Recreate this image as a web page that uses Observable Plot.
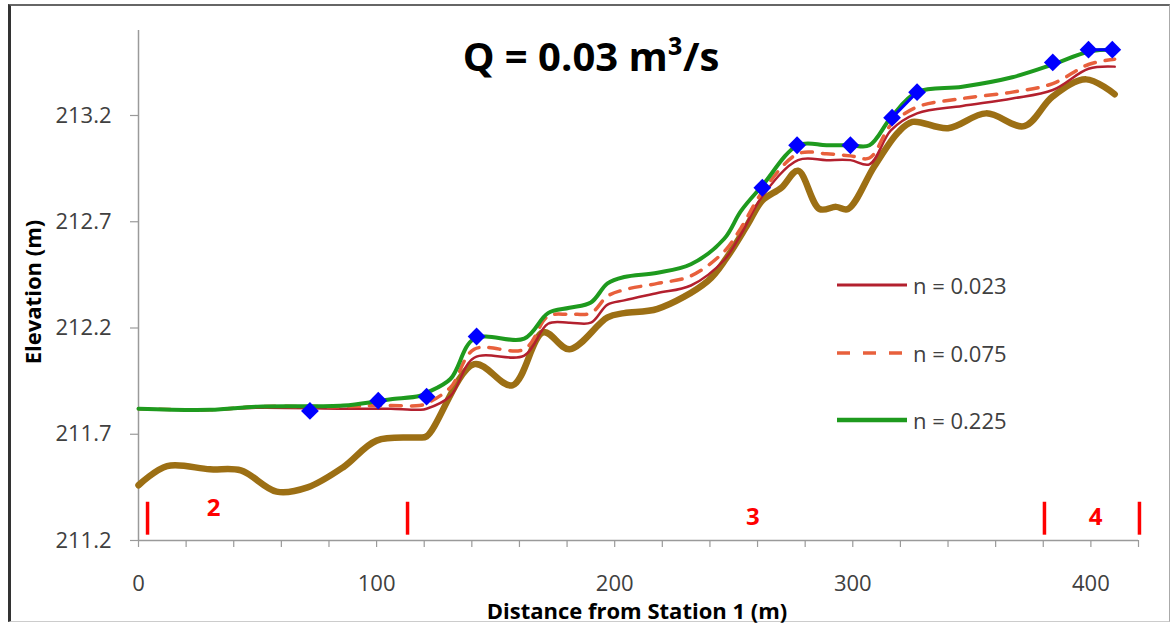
<!DOCTYPE html>
<html>
<head>
<meta charset="utf-8">
<script src="https://cdn.jsdelivr.net/npm/d3@7"></script>
<script src="https://cdn.jsdelivr.net/npm/@observablehq/plot@0.6"></script>
<style>
html, body { margin: 0; padding: 0; background: #fff; }
#wrap { position: relative; width: 1176px; height: 628px; overflow: hidden; font-family: "Open Sans", sans-serif; background: #fff; }
#frame { position: absolute; left: 8px; top: 4px; width: 1162px; height: 618px; box-sizing: border-box;
  border-left: 3px solid #333; border-top: 2px solid #666; border-right: 1px solid #aaa; border-bottom: 1px solid #ccc; }
#chart { position: absolute; left: 0; top: 0; }
.title { position: absolute; left: 591px; top: 36px; transform: translateX(-50%); font-size: 40px; font-weight: 700; line-height: 1; color: #000; white-space: nowrap; }
.xlabel { position: absolute; left: 637px; top: 599px; transform: translateX(-50%); font-size: 22px; font-weight: 700; line-height: 1; color: #000; white-space: nowrap; }
.ylabel { position: absolute; left: 32px; top: 292px; transform: translate(-50%, -50%) rotate(-90deg); font-size: 22px; font-weight: 700; line-height: 1; color: #000; white-space: nowrap; }
.leg { position: absolute; left: 837px; height: 24px; display: flex; align-items: center; font-size: 22px; color: #404040; line-height: 1; white-space: nowrap; }
.leg svg { margin-right: 6px; }
</style>
</head>
<body>
<div id="wrap">
  <div id="frame"></div>
  <div id="chart"></div>
</div>
<script>
// ---- data ----
const bedX    = [0, 12, 30, 43, 58, 71, 86, 100, 117, 121, 141, 157, 170, 181, 197, 204, 218, 239, 247, 256, 262, 270, 277, 286, 293, 298, 309, 319, 325, 340, 356, 372, 384, 398, 410];
const bedElev = [211.46, 211.55, 211.535, 211.53, 211.43, 211.45, 211.545, 211.67, 211.685, 211.69, 212.03, 211.93, 212.18, 212.10, 212.25, 212.27, 212.29, 212.42, 212.53, 212.69, 212.80, 212.86, 212.94, 212.76, 212.77, 212.76, 212.96, 213.12, 213.17, 213.14, 213.21, 213.15, 213.29, 213.37, 213.30];

const wsX   = [0, 30, 50, 86, 100, 106, 118, 121, 131, 141, 162, 172, 181, 190, 197, 204, 218, 232, 246, 253, 262, 277, 289, 299, 307, 316, 327, 346, 367, 384, 399, 410];
const ws023 = [211.82, 211.815, 211.825, 211.82, 211.82, 211.82, 211.815, 211.82, 211.88, 212.06, 212.07, 212.22, 212.225, 212.225, 212.31, 212.33, 212.365, 212.40, 212.52, 212.64, 212.82, 212.99, 212.99, 212.99, 212.97, 213.13, 213.21, 213.245, 213.28, 213.32, 213.42, 213.43];
const ws075 = [211.82, 211.815, 211.83, 211.83, 211.835, 211.835, 211.835, 211.845, 211.92, 212.10, 212.10, 212.255, 212.265, 212.27, 212.35, 212.38, 212.41, 212.445, 212.56, 212.67, 212.84, 213.02, 213.02, 213.01, 213.00, 213.155, 213.24, 213.28, 213.31, 213.35, 213.44, 213.465];
const ws225 = [211.82, 211.815, 211.83, 211.835, 211.855, 211.865, 211.88, 211.895, 211.96, 212.15, 212.15, 212.27, 212.295, 212.32, 212.41, 212.44, 212.46, 212.50, 212.62, 212.75, 212.87, 213.06, 213.06, 213.06, 213.06, 213.19, 213.31, 213.335, 213.38, 213.44, 213.50, 213.51];

const obsX    = [72, 100.7, 121, 142, 262, 276.6, 299, 316.5, 327, 384, 399, 409];
const obsElev = [211.81, 211.858, 211.877, 212.16, 212.86, 213.06, 213.06, 213.19, 213.31, 213.45, 213.51, 213.51];
const obsSeg  = [1, 2, 3, 4, 5, 6, 7, 8, 8, 9, 10, 10];

const reachBounds = [3.8, 113, 380.5, 420.4];
const reachNames  = ["2", "3", "4"];
const reachLabelX = [31.5, 258, 402];
const reachLabelY = [211.35, 211.31, 211.31];

const xTicks      = [0, 100, 200, 300, 400];
const xMinorTicks = [0, 20, 40, 60, 80, 100, 120, 140, 160, 180, 200, 220, 240, 260, 280, 300, 320, 340, 360, 380, 400, 420];
const yTicks      = [211.2, 211.7, 212.2, 212.7, 213.2];

const seriesNames = ["n = 0.023", "n = 0.075", "n = 0.225"];
const titleText = "Q = 0.03 m³/s";
const xLabel = "Distance from Station 1 (m)";
const yLabel = "Elevation (m)";

// ---- tables ----
const bed = bedX.map((x, i) => ({x, y: bedElev[i]}));
const s023 = wsX.map((x, i) => ({x, y: ws023[i]}));
const s075 = wsX.map((x, i) => ({x, y: ws075[i]}));
const s225 = wsX.map((x, i) => ({x, y: ws225[i]}));
const obs = obsX.map((x, i) => ({x, y: obsElev[i], seg: obsSeg[i]}));
const reachLabels = reachNames.map((t, i) => ({t, x: reachLabelX[i], y: reachLabelY[i]}));

const COL = {bed: "#9C6F14", n023: "#B3202E", n075: "#E8603C", n225: "#1E9A1E", obs: "#0000FF", axis: "#9a9a9a", reach: "#FF0000"};

const plot = Plot.plot({
  width: 1176,
  height: 628,
  marginLeft: 138,
  marginRight: 38,
  marginTop: 30,
  marginBottom: 88,
  x: {domain: [0, 420]},
  y: {domain: [211.2, 213.6]},
  style: {background: "transparent", fontFamily: "Open Sans", fontSize: "22px", color: "#404040", overflow: "visible"},
  marks: [
    Plot.ruleY([211.2], {stroke: COL.axis, strokeWidth: 1.5}),
    Plot.ruleX([0], {stroke: COL.axis, strokeWidth: 1.5}),
    Plot.axisX({ticks: xMinorTicks, tickFormat: () => "", tickSize: 7, stroke: COL.axis, strokeWidth: 1.2, label: null}),
    Plot.axisX({ticks: xTicks, tickSize: 0, tickPadding: 35, label: null, fill: "#404040"}),
    Plot.axisY({ticks: yTicks, tickSize: 8, tickPadding: 19, stroke: COL.axis, strokeWidth: 1.2, tickFormat: d => d.toFixed(1), label: null, fill: "#404040"}),
    Plot.line(bed, {x: "x", y: "y", stroke: COL.bed, strokeWidth: 6.5, curve: "catmull-rom", strokeLinejoin: "round"}),
    Plot.line(s023, {x: "x", y: "y", stroke: COL.n023, strokeWidth: 2.5, curve: "catmull-rom"}),
    Plot.line(s075, {x: "x", y: "y", stroke: COL.n075, strokeWidth: 3.5, strokeDasharray: "11,10", curve: "catmull-rom"}),
    Plot.line(s225, {x: "x", y: "y", stroke: COL.n225, strokeWidth: 4, curve: "catmull-rom"}),
    Plot.line(obs, {x: "x", y: "y", z: "seg", stroke: COL.obs, strokeWidth: 3}),
    Plot.dot(obs, {x: "x", y: "y", symbol: "diamond2", r: 8, fill: COL.obs, stroke: "none"}),
    Plot.ruleX(reachBounds, {y1: 211.225, y2: 211.38, stroke: COL.reach, strokeWidth: 3.5}),
    Plot.text(reachLabels, {x: "x", y: "y", text: "t", fill: COL.reach, fontWeight: "bold", fontSize: 24})
  ]
});
document.getElementById("chart").appendChild(plot);

const wrap = document.getElementById("wrap");
function addDiv(cls, text) {
  const d = document.createElement("div");
  d.className = cls;
  d.textContent = text;
  wrap.appendChild(d);
  return d;
}
addDiv("title", titleText);
addDiv("xlabel", xLabel);
addDiv("ylabel", yLabel);

const legendStyles = [
  {stroke: COL.n023, width: 3, dash: null},
  {stroke: COL.n075, width: 3.5, dash: "13,13"},
  {stroke: COL.n225, width: 4.5, dash: null}
];
const legendTops = [273, 341, 408];
seriesNames.forEach((name, i) => {
  const row = document.createElement("div");
  row.className = "leg";
  row.style.top = legendTops[i] + "px";
  const ns = "http://www.w3.org/2000/svg";
  const svg = document.createElementNS(ns, "svg");
  svg.setAttribute("width", 70);
  svg.setAttribute("height", 24);
  const ln = document.createElementNS(ns, "line");
  ln.setAttribute("x1", 0); ln.setAttribute("x2", 70);
  ln.setAttribute("y1", 12); ln.setAttribute("y2", 12);
  ln.setAttribute("stroke", legendStyles[i].stroke);
  ln.setAttribute("stroke-width", legendStyles[i].width);
  if (legendStyles[i].dash) ln.setAttribute("stroke-dasharray", legendStyles[i].dash);
  svg.appendChild(ln);
  row.appendChild(svg);
  const sp = document.createElement("span");
  sp.textContent = name;
  row.appendChild(sp);
  wrap.appendChild(row);
});
</script>
</body>
</html>
